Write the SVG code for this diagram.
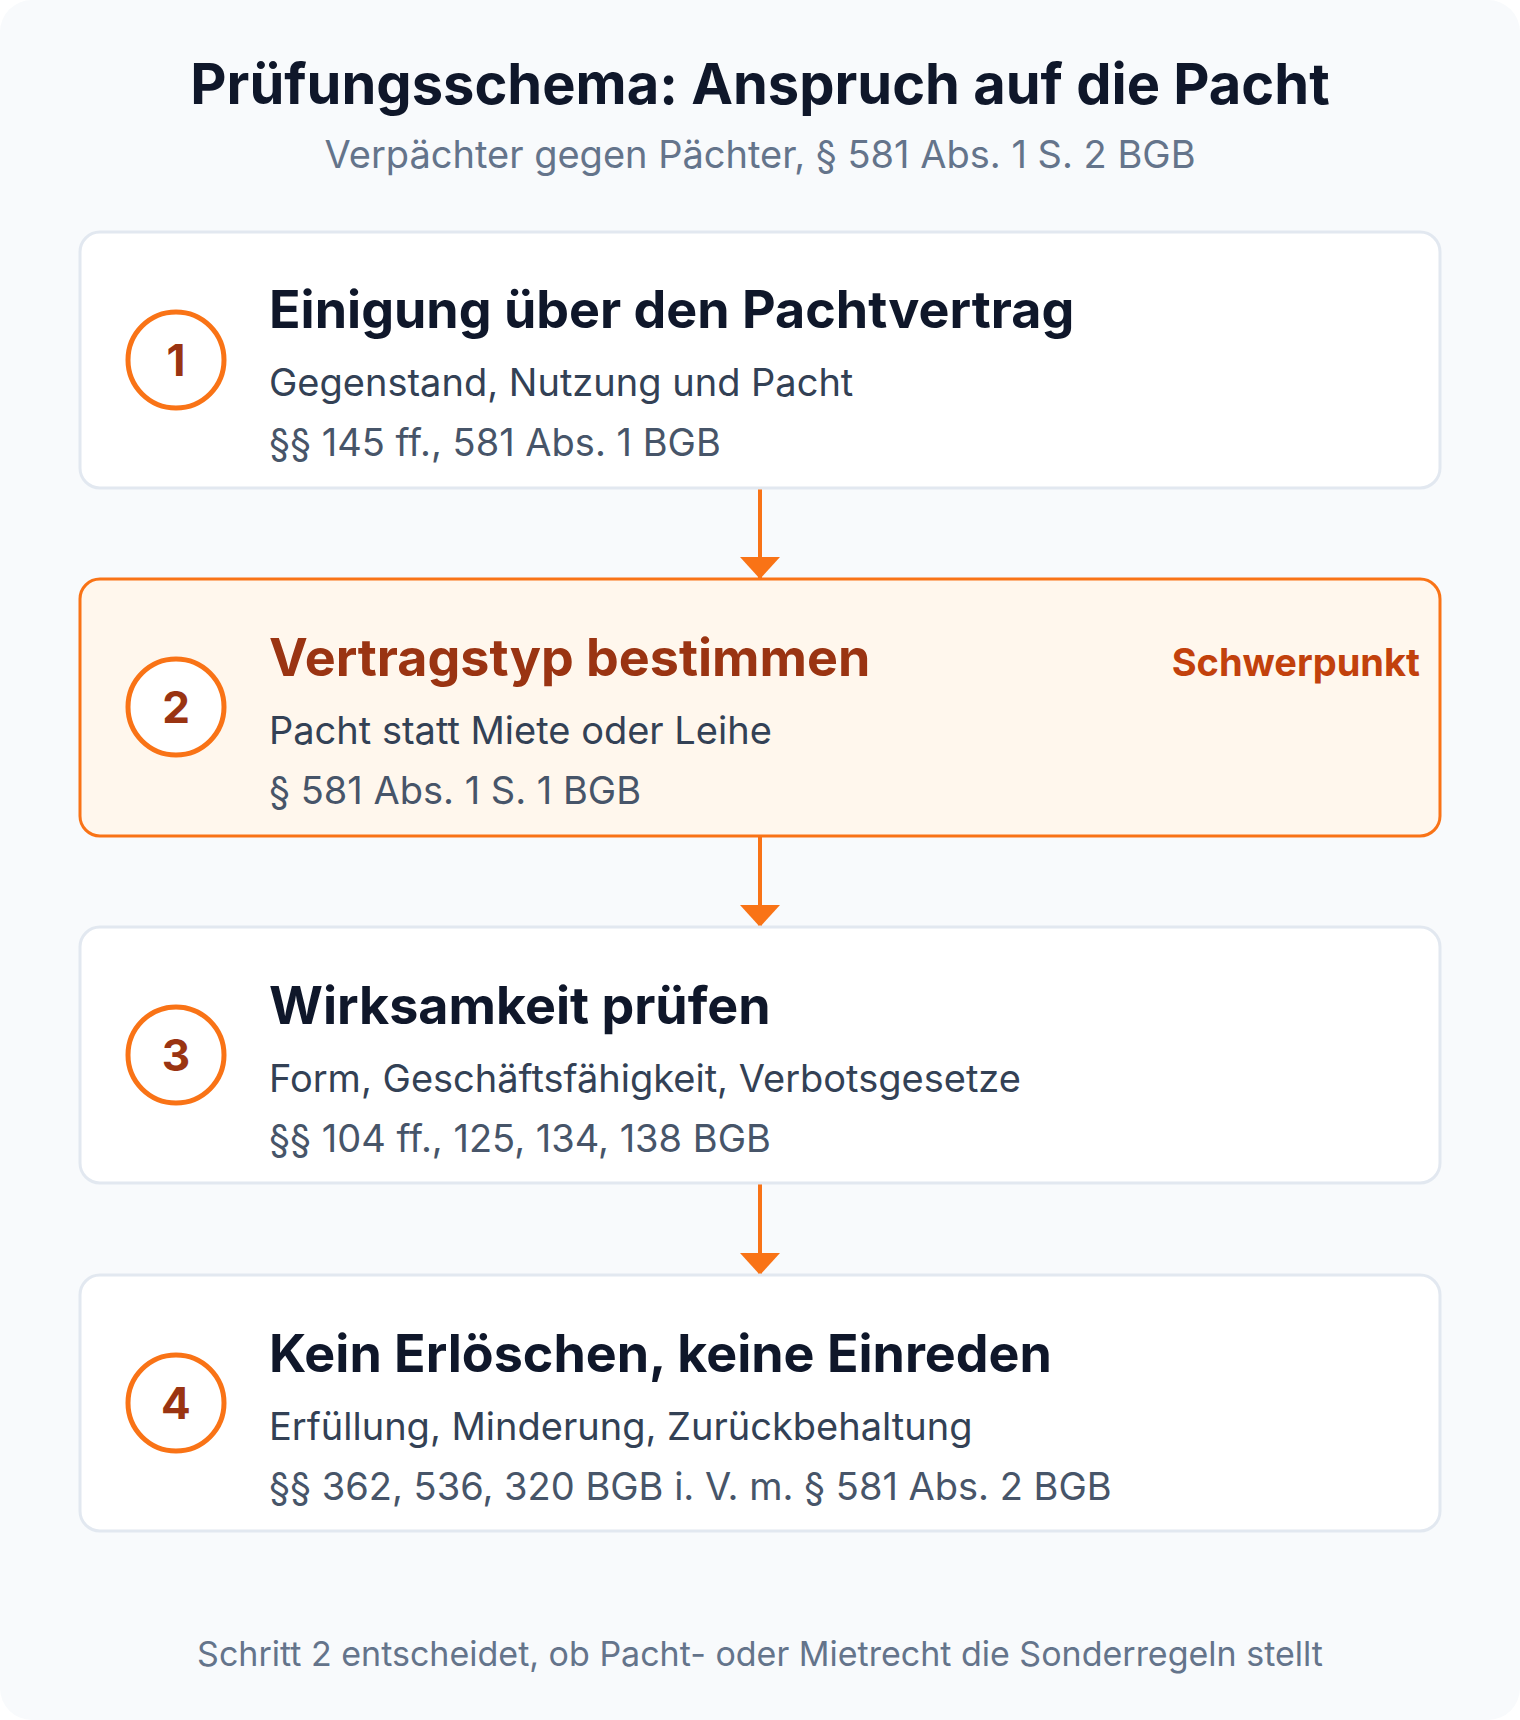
<svg xmlns="http://www.w3.org/2000/svg" width="1520" height="1720" viewBox="0 0 1520 1720">
<style>
.bg{fill:#f8fafc}
.box{fill:#ffffff;stroke:#e2e8f0;stroke-width:3}
.box.hl{fill:#fff7ed;stroke:#f97316}
.num{fill:#ffffff;stroke:#f97316;stroke-width:5}
.t{font-family:Inter,"Noto Sans",sans-serif}
.title{font-size:56px;font-weight:700;fill:#0f172a}
.sub{font-size:38px;fill:#64748b}
.h{font-size:52px;font-weight:700;fill:#0f172a}
.h.hl{fill:#9a3412}
.l2{font-size:38px;fill:#334155}
.l3{font-size:38px;fill:#475569}
.n{font-size:44px;font-weight:700;fill:#9a3412}
.tag{font-size:38px;font-weight:700;fill:#c2410c}
.foot{font-size:34px;fill:#64748b}
.conn{stroke:#f97316;stroke-width:4;fill:none}
</style>
<defs>
<marker id="ah" markerUnits="userSpaceOnUse" markerWidth="22" markerHeight="40" refX="22" refY="20" orient="auto" viewBox="0 0 22 40">
<path d="M0,0 L22,20 L0,40 Z" fill="#f97316"/>
</marker>
</defs>
<rect class="bg" x="0" y="0" width="1520" height="1720" rx="32"/>
<text class="t title" x="760" y="104" text-anchor="middle">Prüfungsschema: Anspruch auf die Pacht</text>
<text class="t sub" x="760" y="168" text-anchor="middle">Verpächter gegen Pächter, § 581 Abs. 1 S. 2 BGB</text>
<g id="connectors">
<line class="conn" x1="760" y1="489" x2="760" y2="579" marker-end="url(#ah)"/>
<line class="conn" x1="760" y1="836" x2="760" y2="927" marker-end="url(#ah)"/>
<line class="conn" x1="760" y1="1183" x2="760" y2="1275" marker-end="url(#ah)"/>
</g>
<g id="step1">
<rect class="box" x="80" y="232" width="1360" height="256" rx="20"/>
<circle class="num" cx="176" cy="360" r="48"/>
<text class="t n" x="176" y="376" text-anchor="middle">1</text>
<text class="t h" x="269" y="328">Einigung über den Pachtvertrag</text>
<text class="t l2" x="269" y="396">Gegenstand, Nutzung und Pacht</text>
<text class="t l3" x="269" y="456">§§ 145 ff., 581 Abs. 1 BGB</text>
</g>
<g id="step2">
<rect class="box hl" x="80" y="579" width="1360" height="257" rx="20"/>
<circle class="num" cx="176" cy="707" r="48"/>
<text class="t n" x="176" y="723" text-anchor="middle">2</text>
<text class="t h hl" x="269" y="676">Vertragstyp bestimmen</text>
<text class="t tag" x="1420" y="676" text-anchor="end">Schwerpunkt</text>
<text class="t l2" x="269" y="744">Pacht statt Miete oder Leihe</text>
<text class="t l3" x="269" y="804">§ 581 Abs. 1 S. 1 BGB</text>
</g>
<g id="step3">
<rect class="box" x="80" y="927" width="1360" height="256" rx="20"/>
<circle class="num" cx="176" cy="1055" r="48"/>
<text class="t n" x="176" y="1071" text-anchor="middle">3</text>
<text class="t h" x="269" y="1024">Wirksamkeit prüfen</text>
<text class="t l2" x="269" y="1092">Form, Geschäftsfähigkeit, Verbotsgesetze</text>
<text class="t l3" x="269" y="1152">§§ 104 ff., 125, 134, 138 BGB</text>
</g>
<g id="step4">
<rect class="box" x="80" y="1275" width="1360" height="256" rx="20"/>
<circle class="num" cx="176" cy="1403" r="48"/>
<text class="t n" x="176" y="1419" text-anchor="middle">4</text>
<text class="t h" x="269" y="1372">Kein Erlöschen, keine Einreden</text>
<text class="t l2" x="269" y="1440">Erfüllung, Minderung, Zurückbehaltung</text>
<text class="t l3" x="269" y="1500">§§ 362, 536, 320 BGB i. V. m. § 581 Abs. 2 BGB</text>
</g>
<text class="t foot" x="760" y="1666" text-anchor="middle">Schritt 2 entscheidet, ob Pacht- oder Mietrecht die Sonderregeln stellt</text>
</svg>
